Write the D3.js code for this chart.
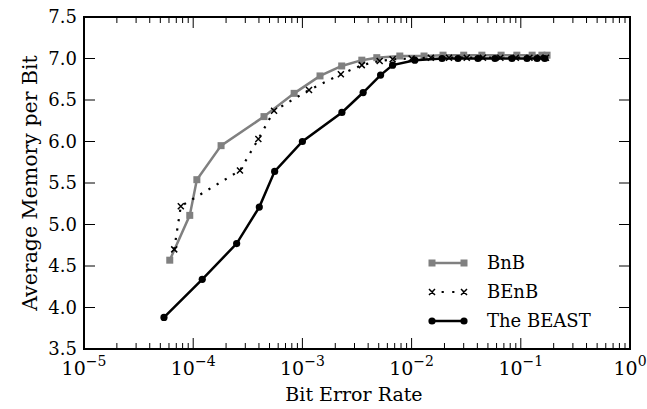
<!DOCTYPE html>
<html><head><meta charset="utf-8">
<script src="https://cdn.jsdelivr.net/npm/d3@7"></script>
<style>body{margin:0;background:#fff}svg{display:block}text{font-family:"DejaVu Serif",serif;fill:#000}</style>
</head><body><svg id="c" width="647" height="409"></svg>
<script>
const bnbX = [6.1e-5, 9.3e-5, 1.08e-4, 1.8e-4, 4.45e-4, 8.4e-4, 1.45e-3, 2.29e-3, 3.5e-3, 4.8e-3, 7.8e-3, 1.3e-2, 1.94e-2, 3.0e-2, 4.4e-2, 6.6e-2, 9.2e-2, 0.127, 0.156, 0.174];
const bnbY = [4.57, 5.11, 5.54, 5.95, 6.30, 6.58, 6.79, 6.91, 6.98, 7.01, 7.03, 7.03, 7.04, 7.04, 7.04, 7.04, 7.04, 7.04, 7.04, 7.04];
const benbX = [6.7e-5, 7.7e-5, 2.68e-4, 3.95e-4, 5.5e-4, 1.15e-3, 2.25e-3, 3.5e-3, 5.1e-3, 6.7e-3, 1.0e-2, 1.5e-2, 2.2e-2, 3.2e-2, 4.5e-2, 6.5e-2, 9.0e-2, 0.12, 0.15, 0.17];
const benbY = [4.70, 5.22, 5.65, 6.03, 6.37, 6.62, 6.81, 6.92, 6.97, 6.99, 7.00, 7.01, 7.01, 7.01, 7.01, 7.01, 7.01, 7.01, 7.01, 7.01];
const beastX = [5.4e-5, 1.21e-4, 2.5e-4, 4.03e-4, 5.57e-4, 1.0e-3, 2.3e-3, 3.6e-3, 5.2e-3, 6.7e-3, 1.07e-2, 1.9e-2, 2.66e-2, 4.05e-2, 5.8e-2, 8.3e-2, 0.114, 0.141, 0.166];
const beastY = [3.88, 4.34, 4.77, 5.21, 5.64, 6.00, 6.35, 6.59, 6.80, 6.92, 6.98, 7.00, 7.00, 7.00, 7.00, 7.00, 7.00, 7.00, 7.00];
const seriesNames = ["BnB", "BEnB", "The BEAST"];
const xTickExps = [-5, -4, -3, -2, -1, 0];
const yTicks = [3.5, 4.0, 4.5, 5.0, 5.5, 6.0, 6.5, 7.0, 7.5];
const xLabel = "Bit Error Rate", yLabel = "Average Memory per Bit";

const L = 84, R = 630, T = 17, B = 349;
const svg = d3.select("#c");
const x = d3.scaleLog().domain([1e-5, 1]).range([L, R]);
const y = d3.scaleLinear().domain([3.5, 7.5]).range([B, T]);

// ticks
const g = svg.append("g");
const minor = [];
for (let e = -5; e < 0; e++) for (let m = 2; m <= 9; m++) minor.push(m * Math.pow(10, e));
const major = xTickExps.map(e => Math.pow(10, e));
const tk = (x1, y1, x2, y2) => g.append("line").attr("x1", x1).attr("y1", y1).attr("x2", x2).attr("y2", y2).attr("stroke", "#000").attr("stroke-width", 1);
minor.forEach(v => { tk(x(v), B, x(v), B - 6); tk(x(v), T, x(v), T + 6); });
major.forEach(v => { tk(x(v), B, x(v), B - 11); tk(x(v), T, x(v), T + 11); });
yTicks.forEach(v => { tk(L, y(v), L + 11, y(v)); tk(R, y(v), R - 11, y(v)); });

// tick labels
xTickExps.forEach(e => {
  const t = svg.append("text").attr("x", x(Math.pow(10, e))).attr("y", 375).attr("text-anchor", "middle").attr("font-size", 19);
  t.append("tspan").text("10");
  t.append("tspan").attr("dy", -9).attr("font-size", 14).text(e === 0 ? "0" : "\u2212" + Math.abs(e));
});
yTicks.forEach(v => {
  svg.append("text").attr("x", 77).attr("y", y(v)).attr("dy", "0.36em").attr("text-anchor", "end").attr("font-size", 18).text(v.toFixed(1));
});
svg.append("text").attr("x", (L + R) / 2 - 3).attr("y", 401).attr("text-anchor", "middle").attr("font-size", 19).text(xLabel);
svg.append("text").attr("transform", `translate(37,${(T + B) / 2}) rotate(-90)`).attr("text-anchor", "middle").attr("font-size", 20.5).text(yLabel);

// series
const line = d3.line().x(d => x(d[0])).y(d => y(d[1]));
const bnb = bnbX.map((v, i) => [v, bnbY[i]]);
const benb = benbX.map((v, i) => [v, benbY[i]]);
const beast = beastX.map((v, i) => [v, beastY[i]]);
const gray = "#808080";

svg.append("path").attr("d", line(bnb)).attr("fill", "none").attr("stroke", gray).attr("stroke-width", 2.5);
svg.selectAll(".sq").data(bnb).enter().append("rect").attr("x", d => x(d[0]) - 3.5).attr("y", d => y(d[1]) - 3.5).attr("width", 7).attr("height", 7).attr("fill", gray);

svg.append("path").attr("d", line(benb)).attr("fill", "none").attr("stroke", "#000").attr("stroke-width", 2.2).attr("stroke-dasharray", "2.2,7.3");
const xm = (px, py, s) => `M${px - s},${py - s}L${px + s},${py + s}M${px - s},${py + s}L${px + s},${py - s}`;
svg.append("path").attr("d", benb.map(d => xm(x(d[0]), y(d[1]), 3)).join("")).attr("stroke", "#000").attr("stroke-width", 1.5).attr("fill", "none");

svg.append("path").attr("d", line(beast)).attr("fill", "none").attr("stroke", "#000").attr("stroke-width", 2.5);
svg.selectAll(".ci").data(beast).enter().append("circle").attr("cx", d => x(d[0])).attr("cy", d => y(d[1])).attr("r", 3.6).attr("fill", "#000");

// frame
svg.append("rect").attr("x", L).attr("y", T).attr("width", R - L).attr("height", B - T).attr("fill", "none").attr("stroke", "#000").attr("stroke-width", 2);

// legend
const lx1 = 432, lx2 = 464, ly = [263, 292, 321];
const lg = svg.append("g");
lg.append("line").attr("x1", lx1).attr("x2", lx2).attr("y1", ly[0]).attr("y2", ly[0]).attr("stroke", gray).attr("stroke-width", 2.5);
[lx1, lx2].forEach(px => lg.append("rect").attr("x", px - 3.5).attr("y", ly[0] - 3.5).attr("width", 7).attr("height", 7).attr("fill", gray));
lg.append("line").attr("x1", lx1).attr("x2", lx2).attr("y1", ly[1]).attr("y2", ly[1]).attr("stroke", "#000").attr("stroke-width", 2.2).attr("stroke-dasharray", "2.2,8.4").attr("stroke-dashoffset", -9.6);
lg.append("path").attr("d", xm(lx1, ly[1], 3) + xm(lx2, ly[1], 3)).attr("stroke", "#000").attr("stroke-width", 1.5);
lg.append("line").attr("x1", lx1).attr("x2", lx2).attr("y1", ly[2]).attr("y2", ly[2]).attr("stroke", "#000").attr("stroke-width", 2.5);
[lx1, lx2].forEach(px => lg.append("circle").attr("cx", px).attr("cy", ly[2]).attr("r", 3.6).attr("fill", "#000"));
seriesNames.forEach((n, i) => lg.append("text").attr("x", 487).attr("y", ly[i]).attr("dy", "0.36em").attr("font-size", 18).text(n));
</script></body></html>
